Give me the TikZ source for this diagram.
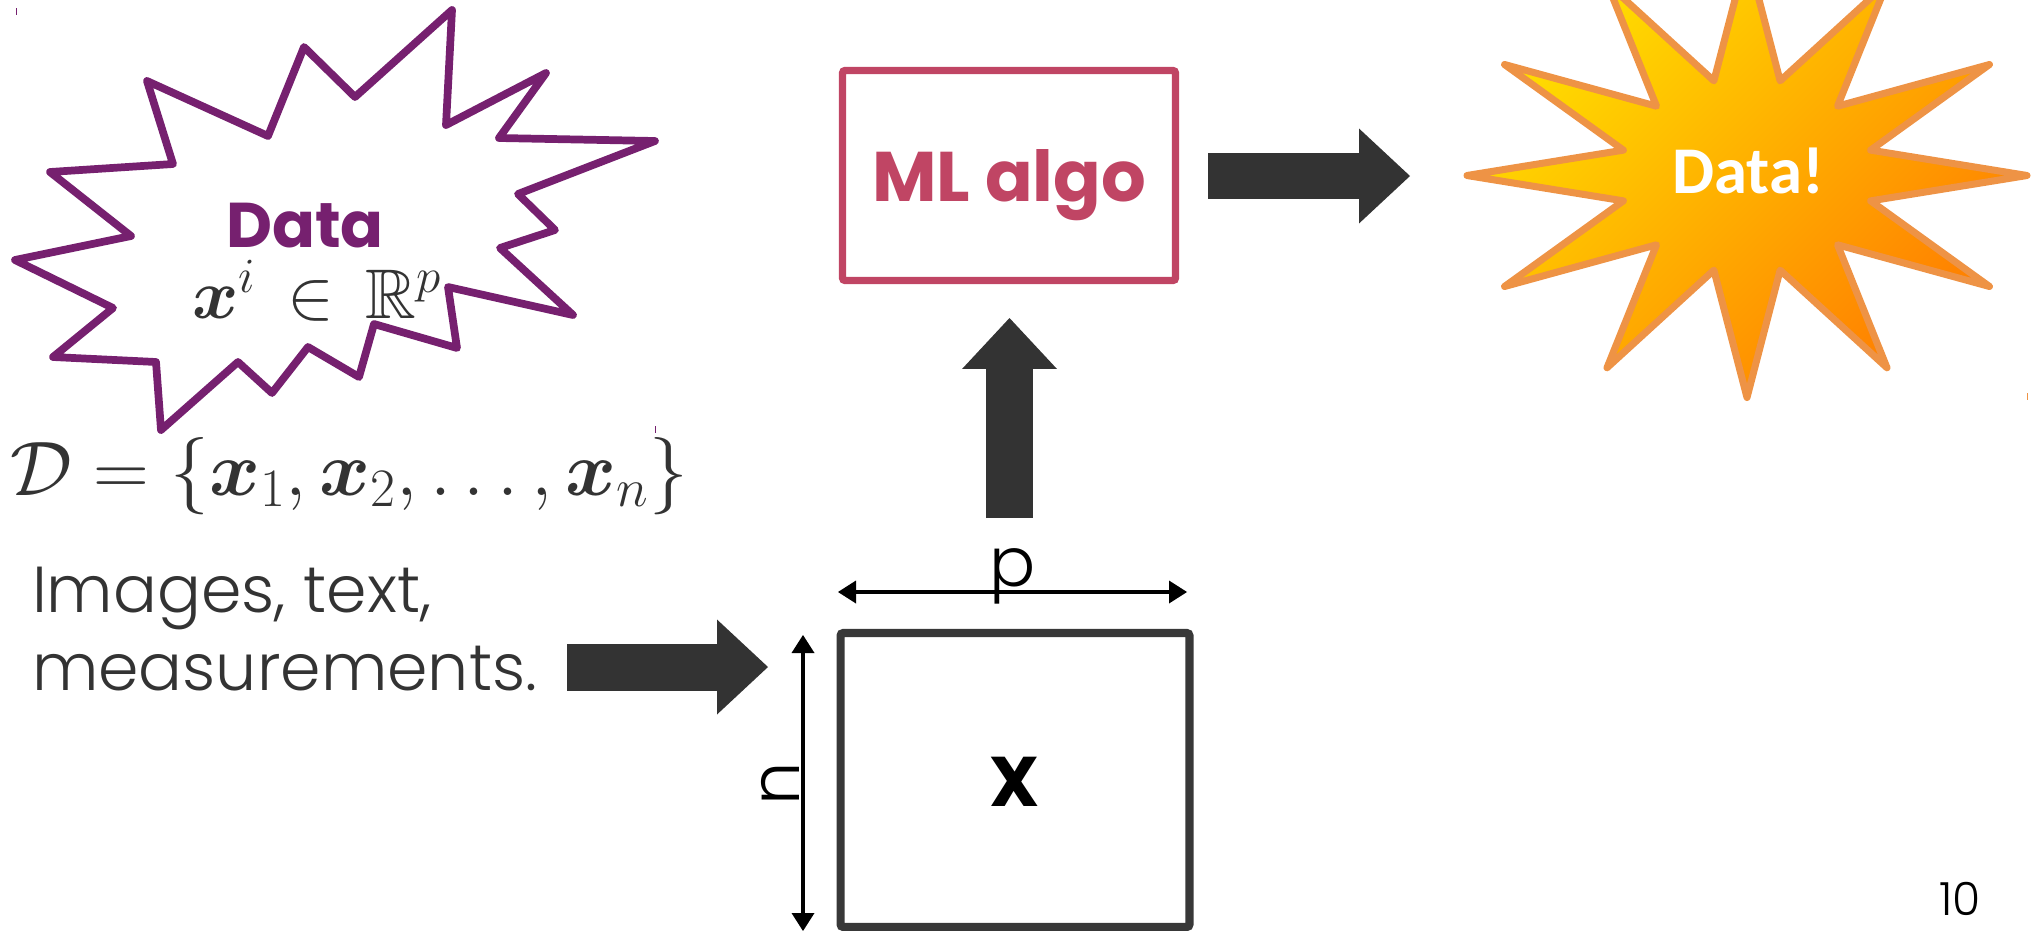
\RequirePackage{fix-cm}
\documentclass[tikz,border=0pt]{standalone}
\usepackage{amsmath,amssymb}
\usepackage{fontspec}
\newfontfamily\popl{Poppins Light}
\newfontfamily\popf{Poppins}
\newfontfamily\carl{Carlito}
\usetikzlibrary{arrows.meta,calc}
\definecolor{burstpurple}{RGB}{118,32,111}
\definecolor{mlred}{RGB}{192,69,100}
\definecolor{dgray}{RGB}{51,51,51}
\definecolor{boxgray}{RGB}{56,56,56}
\definecolor{staredge}{RGB}{238,147,69}
\definecolor{staryellow}{RGB}{255,224,0}
\definecolor{starorange}{RGB}{255,125,0}
\begin{document}
\begin{tikzpicture}[x=0.02cm,y=-0.02cm,
  burst/.style={draw=burstpurple, line width=4.4pt, line join=round, fill=white},
  blockarrow/.style={draw=dgray, line width=0.94cm, -{Triangle[length=1.02cm,width=1.9cm,line width=0pt]}},
  dimarrow/.style={draw=black, line width=2.2pt, {Triangle[length=0.36cm,width=0.46cm,line width=0pt]}-{Triangle[length=0.36cm,width=0.46cm,line width=0pt]}},
  boxnode/.style={rectangle, inner sep=0pt, outer sep=0pt, rounded corners=1.5pt},
  txt/.style={inner sep=0pt, outer sep=0pt},
  tick/.style={line width=0.5pt}
]
\useasboundingbox (0,0) rectangle (2042,930);
\clip (0,0) rectangle (2042,930);

% purple burst
\draw[burst] (452,10) -- (446,125) -- (546,73) -- (499,138) -- (655,141)
  -- (518,194) -- (555,230) -- (500,248) -- (573,315) -- (448,287)
  -- (457,348) -- (374,324) -- (359,377) -- (308,347) -- (272,393)
  -- (238,362) -- (161,430) -- (156,362) -- (53,357) -- (113,308)
  -- (15,260) -- (131,236) -- (50,172) -- (173,164) -- (147,81)
  -- (268,136) -- (304,47) -- (355,97) -- cycle;
\node[txt, anchor=base, text=burstpurple, font=\popf\bfseries\fontsize{36}{40}\selectfont] (data) at (305,247) {Data};
\node[txt, anchor=base, text=dgray, font=\fontsize{40}{48}\selectfont] (xi) at (317,318) {$\boldsymbol{x}^{i}\,\in\,\mathbb{R}^{p}$};

% set formula
\node[txt, anchor=base, text=dgray, font=\fontsize{44}{50}\selectfont] (dset) at (349,495) {$\mathcal{D}=\{\boldsymbol{x}_1,\boldsymbol{x}_2,\ldots,\boldsymbol{x}_n\}$};

% description
\node[txt, anchor=base west, text=dgray, font=\popl\fontsize{37}{44}\selectfont] (img1) at (32,612) {Images, text,};
\node[txt, anchor=base west, text=dgray, font=\popl\fontsize{37}{44}\selectfont] (img2) at (32,690) {measurements.};

% ML algo box
\node[boxnode, draw=mlred, line width=4.2pt, text=mlred, minimum width=6.66cm, minimum height=4.2cm,
  text height=30pt, text depth=0pt, font=\popf\bfseries\fontsize{40}{44}\selectfont] (ml) at (1009,175.5) {ML algo};

% matrix box
\node[boxnode, draw=boxgray, line width=4.6pt, text=black, minimum width=6.98cm, minimum height=5.88cm,
  text height=30.7pt, text depth=0pt, font=\popf\bfseries\fontsize{40}{44}\selectfont] (X) at (1015,780) {X};

% star
\path[draw=staredge, line width=4pt, line join=round, top color=staryellow, bottom color=starorange, shading angle=45, shift={(1747,175.5)}]
  (0:280 and 222) \foreach \a in {0,30,...,300} { -- (\a+15:128 and 98) -- (\a+30:280 and 222) } -- (345:128 and 98) -- cycle;
\node[txt, anchor=base, text=white, font=\carl\bfseries\fontsize{38}{42}\selectfont] (datab) at (1748,193) {Data!};

% block arrows
\coordinate (a1s) at (567,667);
\coordinate (a1e) at (768,667);
\draw[blockarrow] (a1s) -- (a1e);
\coordinate (a2s) at (1009.5,518);
\coordinate (a2e) at (1009.5,318);
\draw[blockarrow] (a2s) -- (a2e);
\coordinate (a3s) at (1208,176);
\coordinate (a3e) at (1410,176);
\draw[blockarrow] (a3s) -- (a3e);

% dimension arrows
\coordinate (pl) at (838,592);
\coordinate (pr) at (1187,592);
\draw[dimarrow] (pl) -- (pr);
\node[txt, anchor=base, text=black, font=\popl\fontsize{39}{44}\selectfont] (plab) at (1013,586) {p};
\coordinate (nt) at (803,635);
\coordinate (nb) at (803,931);
\draw[dimarrow] (nt) -- (nb);
\node[txt, anchor=base, rotate=90, text=black, font=\popl\fontsize{39}{44}\selectfont] (nlab) at (799,783.5) {n};

% page number
\node[txt, anchor=base, text=black, font=\popl\fontsize{26}{30}\selectfont] (pg) at (1960,915) {10};

% small marks
\draw[tick, burstpurple] (16,8) -- (16,15);
\draw[tick, burstpurple] (655,426) -- (655,433);
\draw[tick, staredge] (2027,393) -- (2027,400);
\end{tikzpicture}
\end{document}
